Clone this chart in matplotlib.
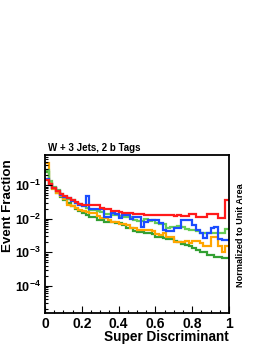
import numpy as np
from matplotlib import pyplot as plt
from matplotlib.ticker import LogLocator, MultipleLocator, FixedLocator

plt.rcParams['font.family'] = ['Liberation Sans', 'DejaVu Sans']
plt.rcParams['font.weight'] = 'bold'
plt.rcParams['mathtext.fontset'] = 'custom'
plt.rcParams['mathtext.rm'] = 'Liberation Sans:bold'
plt.rcParams['mathtext.bf'] = 'Liberation Sans:bold'
plt.rcParams['mathtext.it'] = 'Liberation Sans:bold'

# 50 bins of the super discriminant, each sample normalized to unit area
binEdges = np.linspace(0.0, 1.0, 51)

darkGreen = [0.25, 0.11, 0.08, 0.06, 0.045, 0.036, 0.03, 0.024, 0.02, 0.017,
             0.015, 0.013, 0.0113, 0.0113, 0.009, 0.009, 0.008, 0.008, 0.008, 0.0072,
             0.0072, 0.0065, 0.0051, 0.0051, 0.0042, 0.0040, 0.0040, 0.0038, 0.0037, 0.0035,
             0.0029, 0.0029, 0.0027, 0.0024, 0.0024, 0.0021, 0.0020, 0.0018, 0.0016, 0.0015,
             0.0013, 0.0012, 0.0010, 0.0010, 0.00085, 0.0008, 0.0007, 0.0007, 0.00066, 0.00066]

orange = [0.46, 0.115, 0.075, 0.06, 0.048, 0.038, 0.026, 0.023, 0.021, 0.018,
          0.017, 0.016, 0.0146, 0.0146, 0.012, 0.0101, 0.0101, 0.009, 0.008, 0.0078,
          0.0067, 0.0067, 0.0065, 0.0051, 0.0051, 0.0045, 0.0045, 0.0045, 0.0046, 0.0044,
          0.0035, 0.0033, 0.0036, 0.0029, 0.0029, 0.0020, 0.0020, 0.0020, 0.0021, 0.0019,
          0.0021, 0.0021, 0.0019, 0.0015, 0.0015, 0.0028, 0.0028, 0.0015, 0.0010, 0.0015]

lightGreen = [0.28, 0.13, 0.09, 0.07, 0.055, 0.045, 0.038, 0.035, 0.03, 0.027,
              0.023, 0.021, 0.018, 0.018, 0.017, 0.016, 0.014, 0.0135, 0.013, 0.0125,
              0.012, 0.0113, 0.0113, 0.011, 0.009, 0.0085, 0.0085, 0.0095, 0.0085, 0.0088,
              0.0075, 0.0068, 0.0068, 0.0052, 0.0055, 0.0055, 0.006, 0.0055, 0.0048, 0.0045,
              0.0045, 0.0042, 0.0038, 0.0038, 0.0037, 0.0036, 0.0038, 0.0036, 0.0036, 0.0048]

blue = [0.15, 0.1, 0.08, 0.065, 0.052, 0.044, 0.04, 0.034, 0.03, 0.026,
        0.024, 0.046, 0.02, 0.019, 0.019, 0.02, 0.0115, 0.0115, 0.015, 0.014,
        0.0103, 0.013, 0.013, 0.0095, 0.0113, 0.0113, 0.0055, 0.008, 0.009, 0.009,
        0.009, 0.0075, 0.0045, 0.0042, 0.0042, 0.0052, 0.0052, 0.0092, 0.0092, 0.009,
        0.0065, 0.0045, 0.0037, 0.0026, 0.0037, 0.0052, 0.0056, 0.0024, 0.0023, 0.0023]

red = [0.14, 0.105, 0.082, 0.068, 0.054, 0.046, 0.042, 0.036, 0.032, 0.028,
       0.026, 0.026, 0.025, 0.025, 0.025, 0.021, 0.020, 0.020, 0.017, 0.017,
       0.016, 0.0145, 0.0143, 0.0143, 0.014, 0.0136, 0.0135, 0.013, 0.0132, 0.013,
       0.0128, 0.0127, 0.0125, 0.0126, 0.0125, 0.0122, 0.0127, 0.0122, 0.0122, 0.0135,
       0.0135, 0.0115, 0.0115, 0.0115, 0.0135, 0.014, 0.014, 0.0102, 0.0102, 0.036]

seriesList = [(darkGreen, '#33a033'), (orange, '#ffa500'), (lightGreen, '#66cc55'),
              (blue, '#1a4dff'), (red, '#ff1a1a')]

fig = plt.figure(figsize=(2.7, 3.49), dpi=100)
ax = fig.add_axes([0.167, 0.103, 0.681, 0.453])

for values, colour in seriesList:
    ax.stairs(values, binEdges, baseline=None, color=colour, linewidth=1.6)

ax.set_yscale('log')
ax.set_xlim(0, 1)
ax.set_ylim(1.53e-5, 0.79)

ax.xaxis.set_major_locator(FixedLocator([0, 0.2, 0.4, 0.6, 0.8, 1.0]))
ax.xaxis.set_minor_locator(MultipleLocator(0.05))
ax.set_xticklabels(['0', '0.2', '0.4', '0.6', '0.8', '1'])
ax.yaxis.set_major_locator(FixedLocator([1e-4, 1e-3, 1e-2, 1e-1]))
ax.yaxis.set_minor_locator(LogLocator(base=10, subs=np.arange(2, 10)))
ax.set_yticklabels([r'$\mathbf{10^{-4}}$', r'$\mathbf{10^{-3}}$',
                    r'$\mathbf{10^{-2}}$', r'$\mathbf{10^{-1}}$'])
ax.yaxis.set_minor_formatter(plt.NullFormatter())

ax.tick_params(which='both', direction='in', top=False, right=False, width=0.8)
ax.tick_params(which='major', length=5, pad=3)
ax.tick_params(which='minor', length=2.5)
ax.tick_params(axis='x', labelsize=10)
ax.tick_params(axis='y', labelsize=9)
for spine in ax.spines.values():
    spine.set_linewidth(1.3)

ax.set_xlabel('Super Discriminant', fontsize=9.8, fontweight='bold', loc='right')
ax.xaxis.set_label_coords(1.0, -0.105)
ax.set_ylabel('Event Fraction', fontsize=9.6, fontweight='bold', loc='top')
ax.yaxis.set_label_coords(-0.168, 0.975)
ax.text(0.015, 1.01, 'W + 3 Jets, 2 b Tags', transform=ax.transAxes,
        fontsize=7, fontweight='bold', ha='left', va='bottom')
fig.text(0.889, 0.327, 'Normalized to Unit Area', rotation=90, fontsize=6.6,
         fontweight='bold', ha='center', va='center')

fig.savefig('out.png', dpi=100)
